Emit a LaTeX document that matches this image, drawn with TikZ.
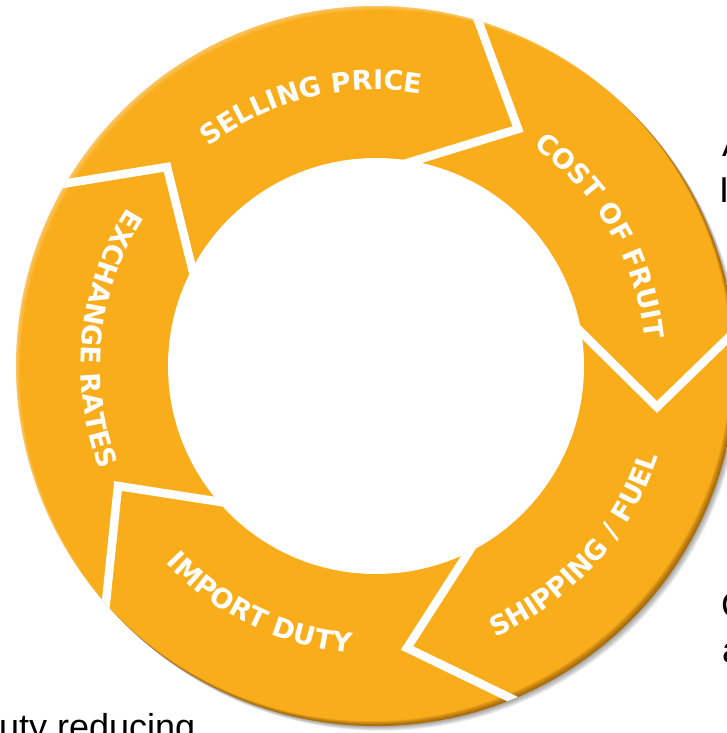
\documentclass[tikz,border=0pt]{standalone}
\usepackage{fontspec}
\setmainfont{Liberation Sans}
\newfontfamily\labelfamily{DejaVu Sans}
\usetikzlibrary{calc,decorations.text}

\definecolor{ringorange}{RGB}{250,173,26}
\definecolor{ringshade}{RGB}{100,55,0}

\newcommand\labelfont{\labelfamily\fontsize{27}{27}\selectfont\bfseries}

\tikzset{
  ringlabel/.style={decorate, decoration={text along path,
      text={|\labelfont|#1}, text align=center, text color=white}},
  gapline/.style={draw=white, line width=8.5pt, line join=miter, miter limit=10},
  sidetext/.style={anchor=base west, inner sep=0pt,
      font=\fontsize{36}{36}\selectfont, text=black},
}

\begin{document}
\begin{tikzpicture}[x=1pt,y=1pt]
\useasboundingbox (-376,-367) rectangle (350,366);

% soft drop shadow towards the lower right
\foreach \d in {1,...,7}
  \fill[black, opacity=0.06] (0.7*\d,-0.7*\d) circle[radius=360];

% ring body
\fill[ringorange] (0,0) circle[radius=360];

\begin{scope}
  \clip (0,0) circle[radius=360];
  % dark bevel on the lower right edge
  \foreach \d in {1,...,6}
    \fill[ringshade, opacity=0.12, even odd rule]
      (-420,-420) rectangle (420,420) (-0.8*\d,0.8*\d) circle[radius=360];
  % light rim on the upper left edge
  \foreach \d in {1,...,5}
    \fill[white, opacity=0.07, even odd rule]
      (-420,-420) rectangle (420,420) (0.8*\d,-0.8*\d) circle[radius=360];

  % hole in the middle
  \fill[white] (0,0) circle[radius=208];

  % chevron gaps between the five arrows
  \coordinate (t1) at (142,237);   \coordinate (o1) at (103,343);   \coordinate (i1) at (41,206);
  \coordinate (t2) at (281,-41);   \coordinate (o2) at (350,26);    \coordinate (i2) at (208,31);
  \coordinate (t3) at (31,-282);   \coordinate (o3) at (126,-328);  \coordinate (i3) at (92,-187);
  \coordinate (t4) at (-258,-120); \coordinate (o4) at (-270,-236); \coordinate (i4) at (-168,-134);
  \coordinate (t5) at (-209,199);  \coordinate (o5) at (-320,181);  \coordinate (i5) at (-184,98);
  \foreach \k in {1,...,5}
    \draw[gapline] ($(t\k)!1.35!(o\k)$) -- (t\k) -- ($(t\k)!1.5!(i\k)$);
\end{scope}

% curved labels
\path[ringlabel={SELLING PRICE}]  (144:276) arc[start angle=144, end angle=64, radius=276];
\path[ringlabel={COST OF FRUIT}]  (70:270)  arc[start angle=70, end angle=-10, radius=270];
\path[ringlabel={SHIPPING / FUEL}] (-87:296) arc[start angle=-87, end angle=3, radius=296];
\path[ringlabel={IMPORT DUTY}]    (-156:288) arc[start angle=-156, end angle=-76, radius=288];
\path[ringlabel={EXCHANGE RATES}] (124:295) arc[start angle=124, end angle=224, radius=295];

% slide text running off the edges
\node[sidetext] (sa) at (346,209) {A};
\node[sidetext] (sb) at (343,163) {I};
\node[sidetext] (sc) at (345,-251) {C};
\node[sidetext] (sd) at (346,-296) {a};
\node[sidetext] (se) at (-377,-373) {uty reducing};
\end{tikzpicture}
\end{document}
